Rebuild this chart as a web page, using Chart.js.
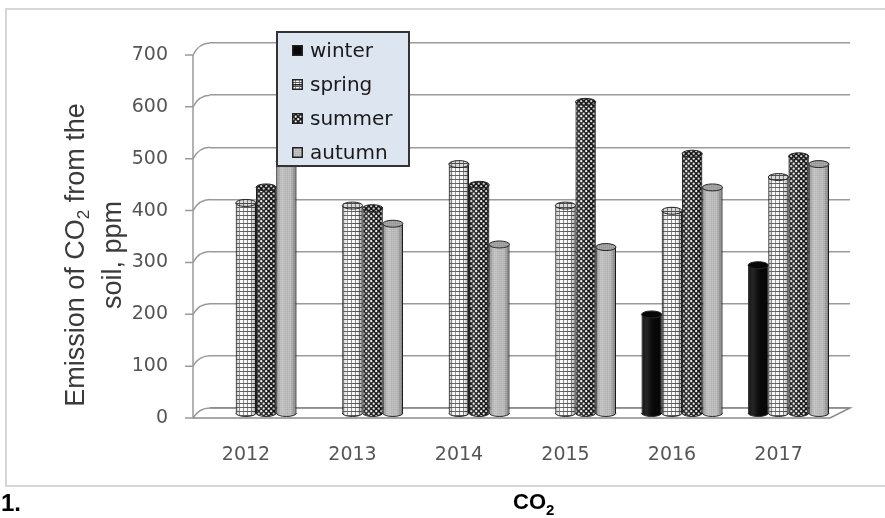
<!DOCTYPE html>
<html>
<head>
<meta charset="utf-8">
<script src="https://cdn.jsdelivr.net/npm/chart.js@4.4.1/dist/chart.umd.min.js"></script>
<style>
  html, body { margin: 0; padding: 0; background: #fff; }
  #wrap { position: relative; width: 885px; height: 518px; overflow: hidden; background: #fff; }
  #frame { position: absolute; left: 5px; top: 8px; width: 900px; height: 479px; border: 2px solid #d6d6d6; box-sizing: border-box; }
  #chart { position: absolute; left: 0; top: 0; }
  #ytitle { position: absolute; left: -76.5px; top: 218px; width: 340px; height: 74px;
            transform: rotate(-90deg); transform-origin: 50% 50%;
            font-family: "Liberation Sans", Arial, sans-serif; font-size: 27px; line-height: 37px;
            color: #3a3a3a; text-align: center; white-space: nowrap; }
  #ytitle sub { font-size: 17px; vertical-align: -5px; line-height: 0; }
  #legend { position: absolute; left: 276px; top: 31px; width: 134px; height: 136px; box-sizing: border-box;
            background: #dde5f0; border: 2px solid #333; padding-top: 0px;
            font-family: "DejaVu Sans", sans-serif; font-size: 20px; color: #1a1a1a; }
  #legend .item { display: flex; align-items: center; height: 34px; }
  #legend canvas { margin-left: 14px; margin-right: 7px; }
  .cap { position: absolute; font-family: "Liberation Sans", Arial, sans-serif; font-weight: bold; color: #000; }
  .cap sub { font-size: 15px; vertical-align: -6px; line-height: 0; }
</style>
</head>
<body>
<div id="wrap">
  <div id="frame"></div>
  <canvas id="chart" width="885" height="518"></canvas>
  <div id="ytitle">Emission of CO<sub>2</sub> from the<br>soil, ppm</div>
  <div id="legend"></div>
  <div class="cap" style="left:1px; top:491px; font-size:24px; line-height:24px;">1.</div>
  <div class="cap" style="left:513px; top:491px; font-size:22px; line-height:22px;">CO<sub>2</sub></div>
</div>
<script>
// Years on the category axis
const categories = ['2012', '2013', '2014', '2015', '2016', '2017'];
// Seasonal CO2 emission from the soil, ppm (winter was not measured before 2016)
const winter = [null, null, null, null, 190, 285];
const spring = [405, 400, 480, 400, 390, 455];
const summer = [435, 395, 440, 600, 500, 495];
const autumn = [485, 365, 325, 320, 435, 480];
const seasonNames = ['winter', 'spring', 'summer', 'autumn'];
const yTicks = [0, 100, 200, 300, 400, 500, 600, 700];

// Fill patterns for the four seasons
function makePattern(kind) {
  const c = document.createElement('canvas');
  const g = c.getContext('2d');
  if (kind === 'winter') {
    c.width = c.height = 4;
    g.fillStyle = '#080808'; g.fillRect(0, 0, 4, 4);
  } else if (kind === 'spring') {
    c.width = c.height = 4;
    g.fillStyle = '#ffffff'; g.fillRect(0, 0, 4, 4);
    g.fillStyle = '#5a5a5a'; g.fillRect(0, 3, 4, 1);
    g.fillStyle = '#8a8a8a'; g.fillRect(3, 0, 1, 3);
  } else if (kind === 'summer') {
    c.width = c.height = 5;
    g.fillStyle = '#1c1c1c'; g.fillRect(0, 0, 5, 5);
    g.fillStyle = '#f4f4f4';
    g.beginPath(); g.arc(1.2, 1.2, 1.15, 0, Math.PI * 2); g.fill();
    g.beginPath(); g.arc(3.7, 3.7, 1.15, 0, Math.PI * 2); g.fill();
  } else {
    c.width = c.height = 2;
    g.fillStyle = '#bdbdbd'; g.fillRect(0, 0, 2, 2);
    g.fillStyle = '#c9c9c9'; g.fillRect(0, 0, 1, 1);
    g.fillStyle = '#b1b1b1'; g.fillRect(1, 1, 1, 1);
  }
  return document.getElementById('chart').getContext('2d').createPattern(c, 'repeat');
}

const seriesValues = [winter, spring, summer, autumn];
const fills = seasonNames.map(makePattern);

const datasets = seasonNames.map((name, k) => ({
  label: name,
  data: seriesValues[k].map((v, i) => ({ x: i, y: v })),
  backgroundColor: fills[k],
  borderColor: '#262626',
  borderWidth: 1,
  borderSkipped: 'bottom',
  xAxisID: 'x',
  yAxisID: 'yBar'
}));

// Floor, front value axis and the slanted links to the back wall
const wall = {
  id: 'wall',
  beforeDatasetsDraw(chart) {
    const { ctx, chartArea: a, scales } = chart;
    const front = scales.y, back = scales.yGrid;
    const depth = 17;
    const fl = a.left - depth;
    const top = yTicks[yTicks.length - 1];
    ctx.save();
    ctx.strokeStyle = '#9a9a9a';
    ctx.lineWidth = 1.5;
    ctx.beginPath();
    ctx.moveTo(fl, front.getPixelForValue(top));
    ctx.lineTo(fl, front.getPixelForValue(0));
    ctx.stroke();
    yTicks.forEach(v => {
      const yf = front.getPixelForValue(v), yb = back.getPixelForValue(v);
      ctx.beginPath();
      ctx.moveTo(fl - 8, yf);
      ctx.lineTo(fl, yf);
      ctx.quadraticCurveTo(fl + 6, yb, a.left, yb);
      ctx.stroke();
    });
    // floor outline
    const y0f = front.getPixelForValue(0), y0b = back.getPixelForValue(0);
    ctx.strokeStyle = '#8a8a8a';
    ctx.beginPath();
    ctx.moveTo(fl, y0f);
    ctx.lineTo(a.right - depth - 3, y0f);
    ctx.lineTo(a.right, y0b);
    ctx.lineTo(a.left, y0b);
    ctx.stroke();
    ctx.restore();
  }
};

// Round caps and side shading that give each bar a cylinder look
const cylinder = {
  id: 'cylinder',
  afterDatasetDraw(chart, args) {
    const ctx = chart.ctx;
    const ds = chart.data.datasets[args.index];
    args.meta.data.forEach((bar, i) => {
      if (ds.data[i].y == null) return;
      const { x, y, base, width } = bar.getProps(['x', 'y', 'base', 'width'], true);
      const l = x - width / 2, r = x + width / 2, ry = 3.5;
      ctx.save();
      // rounded bottom
      ctx.beginPath();
      ctx.ellipse(x, base, width / 2, ry, 0, 0, Math.PI);
      ctx.fillStyle = ds.backgroundColor;
      ctx.fill();
      ctx.strokeStyle = '#262626';
      ctx.lineWidth = 1;
      ctx.stroke();
      // side shading
      const g = ctx.createLinearGradient(l, 0, r, 0);
      g.addColorStop(0, 'rgba(0,0,0,0.30)');
      g.addColorStop(0.3, 'rgba(255,255,255,0.10)');
      g.addColorStop(0.7, 'rgba(0,0,0,0.0)');
      g.addColorStop(1, 'rgba(0,0,0,0.35)');
      ctx.fillStyle = g;
      ctx.beginPath();
      ctx.rect(l, y, width, base - y);
      ctx.ellipse(x, base, width / 2, ry, 0, 0, Math.PI);
      ctx.fill();
      // top cap
      ctx.beginPath();
      ctx.ellipse(x, y, width / 2, ry, 0, 0, Math.PI * 2);
      ctx.fillStyle = ds.backgroundColor;
      ctx.fill();
      ctx.fillStyle = 'rgba(0,0,0,0.15)';
      ctx.fill();
      ctx.stroke();
      ctx.restore();
    });
  }
};

const setTicks = list => scale => { scale.ticks = list.map(v => ({ value: v })); };
const tickFont = { family: 'DejaVu Sans', size: 19 };

new Chart(document.getElementById('chart'), {
  type: 'bar',
  data: { datasets },
  plugins: [wall, cylinder],
  options: {
    responsive: false,
    animation: false,
    layout: { padding: { left: 0, right: 35, top: 43, bottom: 0 } },
    datasets: { bar: { barPercentage: 1, categoryPercentage: 0.76, grouped: true } },
    plugins: { legend: { display: false }, tooltip: { enabled: false } },
    scales: {
      x: {
        type: 'linear',
        position: 'bottom',
        offset: false,
        min: -0.4319,
        max: 5.577,
        afterBuildTicks: setTicks(categories.map((_, i) => i)),
        afterFit: s => { s.height = 100; },
        grid: { display: false, drawTicks: false, offset: false },
        border: { display: false },
        ticks: { callback: v => categories[v], labelOffset: -10, padding: 26, color: '#555', font: tickFont, maxRotation: 0 }
      },
      y: {
        type: 'linear',
        position: 'left',
        min: 0,
        max: 723.14,
        afterBuildTicks: setTicks(yTicks),
        // fixed axis width; the wide label gap must not push the plot area down
        afterFit: s => { s.width = 210; s.paddingTop = 0; s.paddingBottom = 0; },
        grid: { display: false, drawTicks: false },
        border: { display: false },
        ticks: { padding: 42, color: '#555', font: tickFont }
      },
      yGrid: {
        type: 'linear',
        position: 'right',
        min: -19.18,
        max: 700,
        afterBuildTicks: setTicks(yTicks),
        afterFit: s => { s.width = 0; s.paddingTop = 0; s.paddingBottom = 0; },
        grid: { color: '#9a9a9a', lineWidth: 1.5, drawTicks: false },
        border: { display: false },
        ticks: { display: false }
      },
      yBar: {
        type: 'linear',
        display: false,
        min: -9.64,
        max: 713.5
      }
    }
  }
});

// Legend built from the same series names and fills
const legend = document.getElementById('legend');
seasonNames.forEach((name, k) => {
  const row = document.createElement('div');
  row.className = 'item';
  const sw = document.createElement('canvas');
  sw.width = 11; sw.height = 11;
  const g = sw.getContext('2d');
  g.fillStyle = fills[k];
  g.fillRect(0, 0, 11, 11);
  g.strokeStyle = '#222';
  g.lineWidth = 1.5;
  g.strokeRect(0.75, 0.75, 9.5, 9.5);
  if (name === 'spring') { g.fillStyle = '#222'; g.fillRect(1, 5, 9, 1.5); }
  row.appendChild(sw);
  const t = document.createElement('span');
  t.textContent = name;
  row.appendChild(t);
  legend.appendChild(row);
});
</script>
</body>
</html>
